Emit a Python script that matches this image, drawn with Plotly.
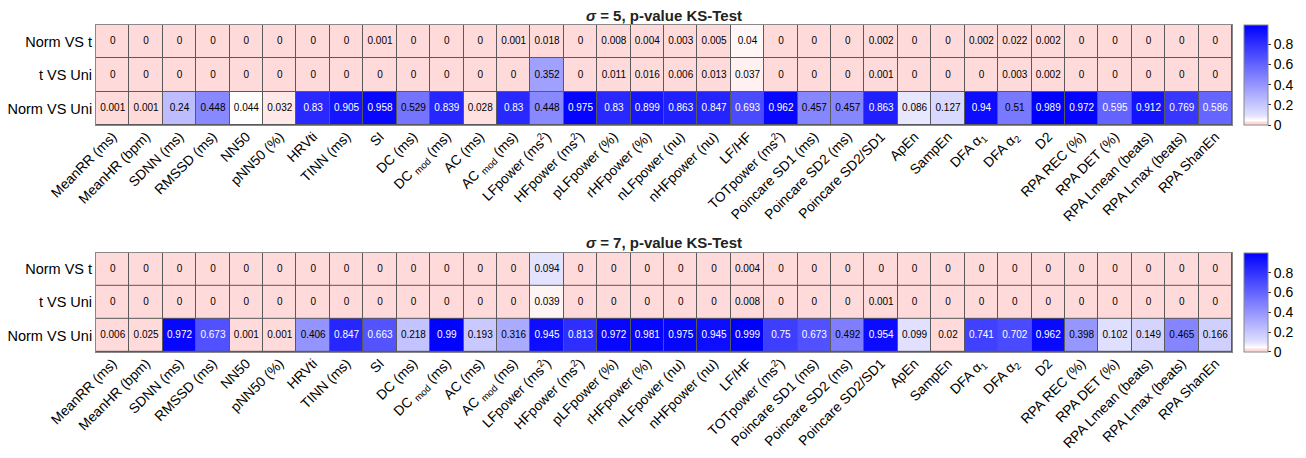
import plotly.graph_objects as go

W, H = 1306, 458
OFF = 8  # default page body margin of the browser
FW, FH = W - 2 * OFF, H - 2 * OFF

categories = ["MeanRR (ms)", "MeanHR (bpm)", "SDNN (ms)", "RMSSD (ms)", "NN50", "pNN50 (%)",
              "HRVti", "TINN (ms)", "SI", "DC (ms)", "DC <sub>mod</sub> (ms)", "AC (ms)",
              "AC <sub>mod</sub> (ms)", "LFpower (ms<sup>2</sup>)", "HFpower (ms<sup>2</sup>)",
              "pLFpower (%)", "rHFpower (%)", "nLFpower (nu)", "nHFpower (nu)", "LF/HF",
              "TOTpower (ms<sup>2</sup>)", "Poincare SD1 (ms)", "Poincare SD2 (ms)",
              "Poincare SD2/SD1", "ApEn", "SampEn", "DFA α<sub>1</sub>", "DFA α<sub>2</sub>",
              "D2", "RPA REC (%)", "RPA DET (%)", "RPA Lmean (beats)", "RPA Lmax (beats)",
              "RPA ShanEn"]
rows = ["Norm VS t", "t VS Uni", "Norm VS Uni"]

s5_norm_t = [0, 0, 0, 0, 0, 0, 0, 0, 0.001, 0, 0, 0, 0.001, 0.018, 0, 0.008, 0.004, 0.003,
             0.005, 0.04, 0, 0, 0, 0.002, 0, 0, 0.002, 0.022, 0.002, 0, 0, 0, 0, 0]
s5_t_uni = [0, 0, 0, 0, 0, 0, 0, 0, 0, 0, 0, 0, 0, 0.352, 0, 0.011, 0.016, 0.006,
            0.013, 0.037, 0, 0, 0, 0.001, 0, 0, 0, 0.003, 0.002, 0, 0, 0, 0, 0]
s5_norm_uni = [0.001, 0.001, 0.24, 0.448, 0.044, 0.032, 0.83, 0.905, 0.958, 0.529, 0.839,
               0.028, 0.83, 0.448, 0.975, 0.83, 0.899, 0.863, 0.847, 0.693, 0.962, 0.457,
               0.457, 0.863, 0.086, 0.127, 0.94, 0.51, 0.989, 0.972, 0.595, 0.912, 0.769, 0.586]

s7_norm_t = [0, 0, 0, 0, 0, 0, 0, 0, 0, 0, 0, 0, 0, 0.094, 0, 0, 0, 0,
             0, 0.004, 0, 0, 0, 0, 0, 0, 0, 0, 0, 0, 0, 0, 0, 0]
s7_t_uni = [0, 0, 0, 0, 0, 0, 0, 0, 0, 0, 0, 0, 0, 0.039, 0, 0, 0, 0,
            0, 0.008, 0, 0, 0, 0.001, 0, 0, 0, 0, 0, 0, 0, 0, 0, 0]
s7_norm_uni = [0.006, 0.025, 0.972, 0.673, 0.001, 0.001, 0.406, 0.847, 0.663, 0.218, 0.99,
               0.193, 0.316, 0.945, 0.813, 0.972, 0.981, 0.975, 0.945, 0.999, 0.75, 0.673,
               0.492, 0.954, 0.099, 0.02, 0.741, 0.702, 0.962, 0.398, 0.102, 0.149, 0.465, 0.166]

titles = ["<i>σ</i> = 5, p-value KS-Test", "<i>σ</i> = 7, p-value KS-Test"]
panels = [[s5_norm_t, s5_t_uni, s5_norm_uni], [s7_norm_t, s7_t_uni, s7_norm_uni]]

colorscale = [[0, "#FFDADA"], [0.025, "#FFDADA"], [0.045, "#FFFFFF"],
              [0.1, "#E0E0FF"], [1, "#0000FF"]]
FONT = "Liberation Sans, Arial, sans-serif"

# pixel geometry of the plot area (screen pixels, then shifted into figure pixels)
PL, PR, PT, PB = 96 - OFF, 1232 - OFF, 24.5 - OFF, 352.5 - OFF
PW, PH = PR - PL, PB - PT
boxes = [(24.5 - OFF, 125 - OFF), (253 - OFF, 352.5 - OFF)]
cb_x = 1244 - OFF


def fx(px):
    return (px - PL) / PW


def fy(py):
    return 1 - (py - PT) / PH


fig = go.Figure()
layout = dict(width=FW, height=FH,
              margin=dict(l=PL, r=FW - PR, t=PT, b=FH - PB, autoexpand=False),
              paper_bgcolor="white", plot_bgcolor="#5a5a5a", showlegend=False,
              font=dict(family=FONT, color="black"))
annotations = []
n = len(categories)
xs = list(range(n))

for i, (data, (yt, yb)) in enumerate(zip(panels, boxes)):
    xa = "x" if i == 0 else "x2"
    ya = "y" if i == 0 else "y2"
    zmax = max(max(r) for r in data)
    fig.add_trace(go.Heatmap(
        z=data, x=xs, y=[0, 1, 2], xaxis=xa, yaxis=ya, zmin=0, zmax=zmax,
        colorscale=colorscale, xgap=1, ygap=1, hoverinfo="skip",
        colorbar=dict(x=fx(cb_x), xanchor="left", y=fy((yt + yb) / 2), yanchor="middle",
                      len=(yb - yt) / PH, lenmode="fraction", thickness=24, thicknessmode="pixels",
                      outlinecolor="#888", outlinewidth=1, tickvals=[0, 0.2, 0.4, 0.6, 0.8],
                      ticks="outside", ticklen=3, tickcolor="#333",
                      tickfont=dict(size=14, family=FONT), xpad=0, ypad=0)))
    tx, ty, tt, tc = [], [], [], []
    for r, row in enumerate(data):
        for c, v in enumerate(row):
            tx.append(c); ty.append(r); tt.append(f"{v:g}")
            tc.append("white" if v > 0.55 else "black")
    fig.add_trace(go.Scatter(x=tx, y=ty, text=tt, mode="text", xaxis=xa, yaxis=ya,
                             textfont=dict(size=10, color=tc, family=FONT), hoverinfo="skip"))
    key = "" if i == 0 else "2"
    layout["xaxis" + key] = dict(domain=[0, 1], range=[-0.5, n - 0.5], anchor=ya,
                                 tickvals=xs, ticktext=categories, tickangle=-45,
                                 tickfont=dict(size=13.8, family=FONT), ticks="",
                                 ticklabelstandoff=-3, automargin=False,
                                 showgrid=False, zeroline=False, showline=True,
                                 linecolor="#888", linewidth=1, mirror=True)
    layout["yaxis" + key] = dict(domain=[fy(yb), fy(yt)], range=[2.5, -0.5], anchor=xa,
                                 tickvals=[0, 1, 2], ticktext=rows, ticks="",
                                 tickfont=dict(size=14.5, family=FONT), automargin=False,
                                 showgrid=False, zeroline=False, showline=True,
                                 linecolor="#888", linewidth=1, mirror=True)
    annotations.append(dict(text="<b>" + titles[i] + "</b>", x=0.5,
                            y=fy(yt - 10), xref="paper", yref="paper",
                            xanchor="center", yanchor="middle", showarrow=False,
                            font=dict(size=15, family=FONT, color="#222")))

layout["annotations"] = annotations
fig.update_layout(**layout)
fig.write_html("out.html")
